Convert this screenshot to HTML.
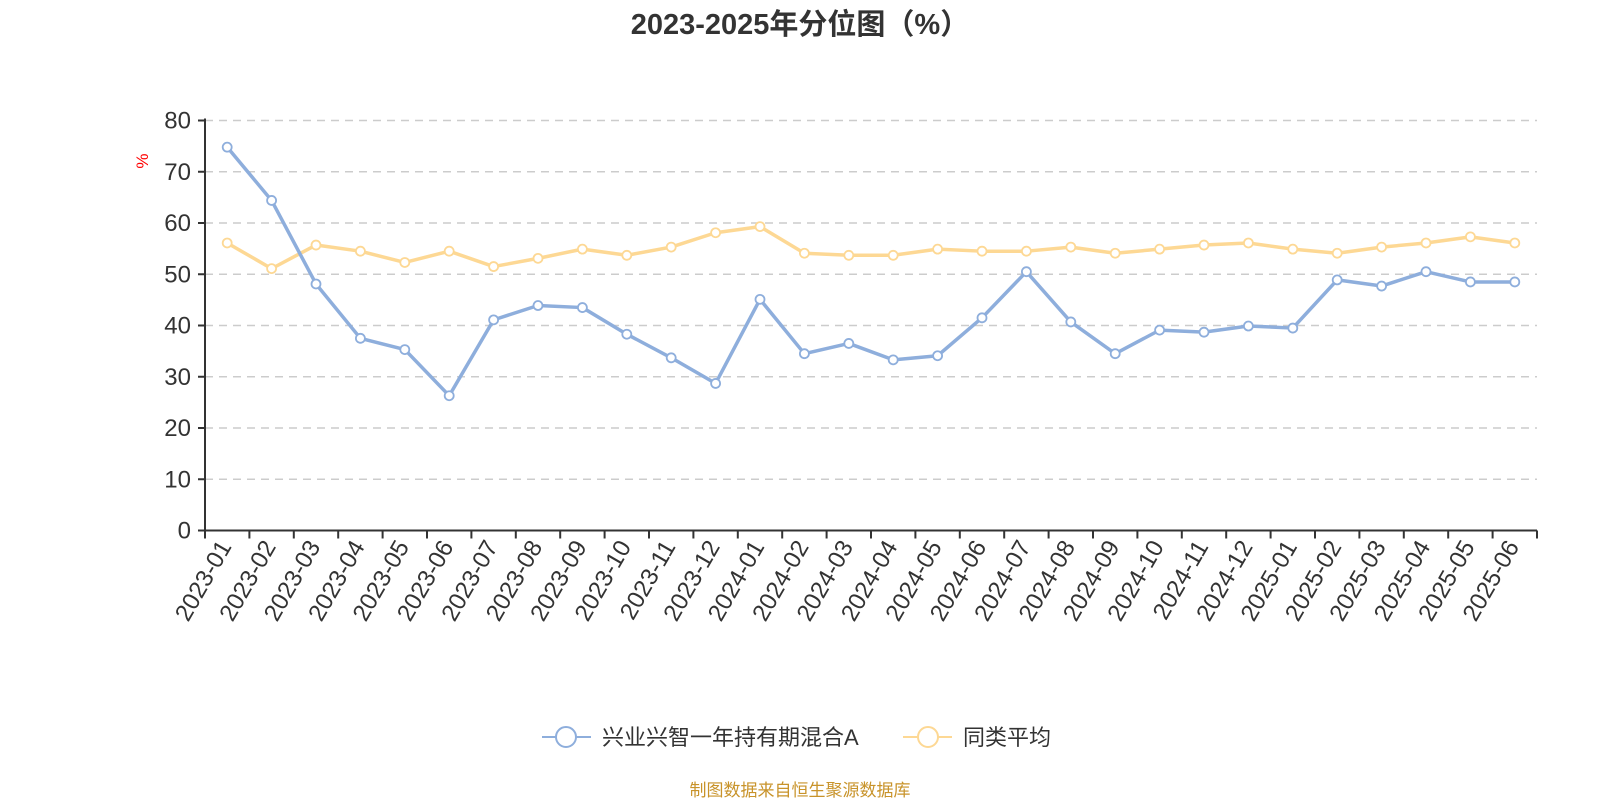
<!DOCTYPE html>
<html><head><meta charset="utf-8">
<style>
body{margin:0;background:#fff;width:1600px;height:800px;overflow:hidden;font-family:"Liberation Sans","Noto Sans CJK SC",sans-serif;}
svg text{font-family:"Liberation Sans","Noto Sans CJK SC",sans-serif;}
</style></head>
<body>
<svg id="chart" width="1600" height="800">
<text x="800" y="34" text-anchor="middle" font-size="29" font-weight="bold" fill="#333">2023-2025年分位图（%）</text>
<text transform="translate(148,161) rotate(-90)" text-anchor="middle" font-size="17" fill="#f00">%</text>
<g id="grid"></g><g id="axes"></g><g id="series"></g>
<g>
 <g>
  <line x1="542" y1="737" x2="591" y2="737" stroke="#8eaedc" stroke-width="2"/>
  <circle cx="566" cy="737" r="10" fill="#fff" stroke="#8eaedc" stroke-width="2"/>
  <text x="602" y="745" font-size="22" fill="#333">兴业兴智一年持有期混合A</text>
 </g>
 <g>
  <line x1="903" y1="737" x2="952" y2="737" stroke="#fdd894" stroke-width="2"/>
  <circle cx="928" cy="737" r="10" fill="#fff" stroke="#fdd894" stroke-width="2"/>
  <text x="963" y="745" font-size="22" fill="#333">同类平均</text>
 </g>
</g>
<text x="800" y="796" text-anchor="middle" font-size="17" fill="#c8932a">制图数据来自恒生聚源数据库</text>
</svg>
<script>
const categories=["2023-01","2023-02","2023-03","2023-04","2023-05","2023-06","2023-07","2023-08","2023-09","2023-10","2023-11","2023-12","2024-01","2024-02","2024-03","2024-04","2024-05","2024-06","2024-07","2024-08","2024-09","2024-10","2024-11","2024-12","2025-01","2025-02","2025-03","2025-04","2025-05","2025-06"];
const fundValues=[74.8,64.4,48.1,37.5,35.3,26.3,41.1,43.9,43.5,38.3,33.7,28.7,45.1,34.5,36.5,33.3,34.1,41.5,50.5,40.7,34.5,39.1,38.7,39.9,39.5,48.9,47.7,50.5,48.5,48.5];
const avgValues=[56.1,51.1,55.7,54.5,52.3,54.5,51.5,53.1,54.9,53.7,55.3,58.1,59.3,54.1,53.7,53.7,54.9,54.5,54.5,55.3,54.1,54.9,55.7,56.1,54.9,54.1,55.3,56.1,57.3,56.1];
const yTicks=[0,10,20,30,40,50,60,70,80];
const NS="http://www.w3.org/2000/svg";
const X0=205,X1=1537,Y0=530.5,Y1=120.5,YMAX=80;
const bw=(X1-X0)/categories.length;
function xPos(i){return X0+bw*(i+0.5);}
function yPos(v){return Y0-(v/YMAX)*(Y0-Y1);}
function mk(tag,attrs,parent){const e=document.createElementNS(NS,tag);for(const k in attrs)e.setAttribute(k,attrs[k]);parent.appendChild(e);return e;}
const grid=document.getElementById('grid'),axes=document.getElementById('axes'),series=document.getElementById('series');
yTicks.forEach(t=>{
 const y=yPos(t);
 if(t>0){const g=mk('line',{x1:X0,x2:X1,y1:y,y2:y,stroke:'#ccc','stroke-width':1.5,'stroke-dasharray':'8,6'},grid);
 
 }
 mk('line',{x1:X0-7,x2:X0,y1:y,y2:y,stroke:'#333','stroke-width':2},axes);
 const tx=mk('text',{x:X0-14,y:y+8,'text-anchor':'end','font-size':24,fill:'#333'},axes);
 tx.textContent=t;
 
 
});
const ya=mk('line',{x1:X0,x2:X0,y1:Y1-2,y2:Y0,stroke:'#333','stroke-width':2},axes);


const xa=mk('line',{x1:X0,x2:X1,y1:Y0,y2:Y0,stroke:'#333','stroke-width':2},axes);


for(let i=0;i<=categories.length;i++){const x=X0+bw*i;mk('line',{x1:x,x2:x,y1:Y0,y2:Y0+8,stroke:'#333','stroke-width':2},axes);}
categories.forEach((c,i)=>{
 const x=xPos(i)+5,y=Y0+16;
 const t=mk('text',{x:0,y:0,transform:`translate(${x},${y}) rotate(-60)`,'text-anchor':'end','font-size':24,fill:'#333'},axes);
 t.textContent=c;
 
 
});
function drawSeries(vals,color,name){
 const pts=vals.map((v,i)=>xPos(i)+','+yPos(v)).join(' ');
 const pl=mk('polyline',{points:pts,fill:'none',stroke:color,'stroke-width':3.5,'stroke-linejoin':'round'},series);
 
 
 vals.forEach((v,i)=>{
  const c=mk('circle',{cx:xPos(i),cy:yPos(v),r:4.5,fill:'#fff',stroke:color,'stroke-width':1.8},series);
  
  
 });
}
drawSeries(avgValues,'#fdd894','average');
drawSeries(fundValues,'#8eaedc','fund');
</script>
</body></html>
